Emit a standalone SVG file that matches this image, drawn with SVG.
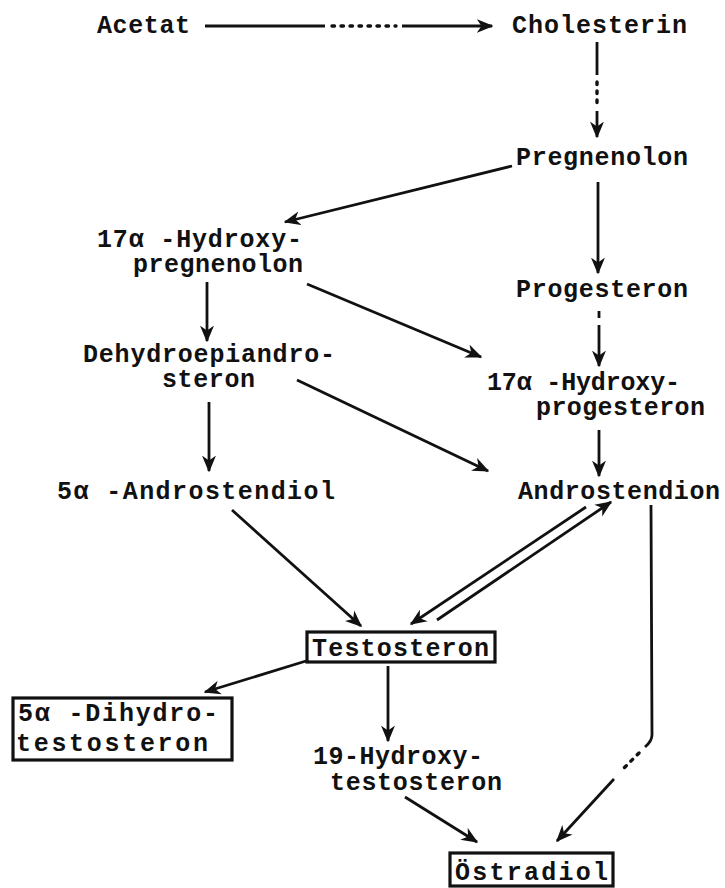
<svg xmlns="http://www.w3.org/2000/svg" width="725" height="888" viewBox="0 0 725 888">
<style>
text{font-family:"Liberation Mono","DejaVu Sans Mono",monospace;font-size:25px;font-weight:bold;fill:#111}
.c{stroke:#111;stroke-width:2.8;fill:none}
.d{stroke:#111;stroke-width:3.4;fill:none;stroke-dasharray:2.5 6.5;stroke-linecap:round}
.b{fill:none;stroke:#111;stroke-width:3.2}
</style>
<defs>
<marker id="ah" viewBox="0 0 12 10" refX="11" refY="5" markerWidth="6" markerHeight="5.2" orient="auto" markerUnits="strokeWidth">
<path d="M0,0 L12,5 L0,10 L3.5,5 z" fill="#111"/>
</marker>
</defs>
<rect width="725" height="888" fill="#fff"/>
<g id="connectors">
<line class="c" x1="205" y1="26" x2="325" y2="26"/>
<line class="d" x1="332" y1="26" x2="396" y2="26"/>
<line class="c" x1="402" y1="26" x2="492" y2="26" marker-end="url(#ah)"/>
<line class="c" x1="597" y1="42" x2="597" y2="75"/>
<line class="d" x1="597" y1="82" x2="597" y2="104"/>
<line class="c" x1="597" y1="111" x2="597" y2="137" marker-end="url(#ah)"/>
<line class="c" x1="512" y1="166" x2="285" y2="222" marker-end="url(#ah)"/>
<line class="c" x1="598" y1="182" x2="598" y2="273" marker-end="url(#ah)"/>
<line class="c" x1="207" y1="282" x2="207" y2="341" marker-end="url(#ah)"/>
<line class="c" x1="307" y1="284" x2="481" y2="357" marker-end="url(#ah)"/>
<line class="c" x1="599" y1="311" x2="599" y2="318"/>
<line class="c" x1="599" y1="325" x2="599" y2="366" marker-end="url(#ah)"/>
<line class="c" x1="209" y1="402" x2="209" y2="471" marker-end="url(#ah)"/>
<line class="c" x1="297" y1="380" x2="488" y2="471" marker-end="url(#ah)"/>
<line class="c" x1="599" y1="430" x2="599" y2="476" marker-end="url(#ah)"/>
<line class="c" x1="232" y1="510" x2="361" y2="626" marker-end="url(#ah)"/>
<line class="c" x1="586" y1="507" x2="411" y2="624" marker-end="url(#ah)"/>
<line class="c" x1="437" y1="620" x2="611" y2="502" marker-end="url(#ah)"/>
<line class="c" x1="306" y1="661" x2="205" y2="692" marker-end="url(#ah)"/>
<line class="c" x1="388" y1="666" x2="388" y2="741" marker-end="url(#ah)"/>
<path class="c" d="M651,505 L652,735 Q652,741 645,747"/>
<line class="d" x1="639" y1="753" x2="620" y2="772"/>
<line class="c" x1="614" y1="779" x2="557" y2="841" marker-end="url(#ah)"/>
<line class="c" x1="405" y1="797" x2="477" y2="842" marker-end="url(#ah)"/>
</g>
<g id="acetat"><text x="97" y="33" textLength="93" lengthAdjust="spacing">Acetat</text></g>
<g id="cholesterin"><text x="512" y="33" textLength="175" lengthAdjust="spacing">Cholesterin</text></g>
<g id="pregnenolon"><text x="516" y="165" textLength="172" lengthAdjust="spacing">Pregnenolon</text></g>
<g id="hydroxypregnenolon">
<text x="97" y="247" textLength="205" lengthAdjust="spacing">17α -Hydroxy-</text>
<text x="133" y="272" textLength="170" lengthAdjust="spacing">pregnenolon</text>
</g>
<g id="progesteron"><text x="516" y="297" textLength="172" lengthAdjust="spacing">Progesteron</text></g>
<g id="hydroxyprogesteron">
<text x="487" y="390" textLength="193" lengthAdjust="spacing">17α -Hydroxy-</text>
<text x="536" y="415" textLength="169" lengthAdjust="spacing">progesteron</text>
</g>
<g id="dhea">
<text x="83" y="362" textLength="252" lengthAdjust="spacing">Dehydroepiandro-</text>
<text x="162" y="387" textLength="93" lengthAdjust="spacing">steron</text>
</g>
<g id="androstendiol"><text x="57" y="499" textLength="278" lengthAdjust="spacing">5α -Androstendiol</text></g>
<g id="androstendion"><text x="518" y="499" textLength="202" lengthAdjust="spacing">Androstendion</text></g>
<g id="testosteron">
<rect class="b" x="307" y="632" width="188" height="30"/>
<text x="312" y="656" textLength="177" lengthAdjust="spacing">Testosteron</text>
</g>
<g id="dihydrotestosteron">
<rect class="b" x="13" y="698" width="219" height="62"/>
<text x="18" y="721" textLength="200" lengthAdjust="spacing">5α -Dihydro-</text>
<text x="16" y="751" textLength="192" lengthAdjust="spacing">testosteron</text>
</g>
<g id="hydroxytestosteron">
<text x="313" y="764" textLength="170" lengthAdjust="spacing">19-Hydroxy-</text>
<text x="330" y="790" textLength="172" lengthAdjust="spacing">testosteron</text>
</g>
<g id="oestradiol">
<rect class="b" x="450" y="853" width="163" height="33"/>
<text x="455" y="880" textLength="153" lengthAdjust="spacing">Östradiol</text>
</g>
</svg>
